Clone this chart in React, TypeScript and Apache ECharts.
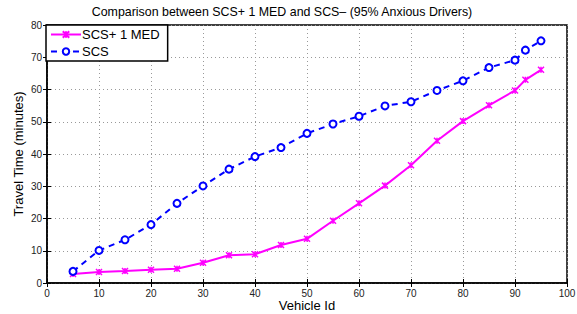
import React, { useEffect, useRef } from "react";
import * as echarts from "echarts";

const vehicleIds = [5, 10, 15, 20, 25, 30, 35, 40, 45, 50, 55, 60, 65, 70, 75, 80, 85, 90, 92, 95];
const scsMed = [2.8, 3.4, 3.7, 4.1, 4.4, 6.3, 8.6, 8.9, 11.8, 13.7, 19.3, 24.7, 30.2, 36.5, 44.1, 50.2, 55.1, 59.7, 63.0, 66.1];
const scs = [3.6, 10.1, 13.4, 18.1, 24.7, 30.1, 35.3, 39.2, 42.0, 46.4, 49.3, 51.7, 54.9, 56.2, 59.7, 62.7, 66.8, 69.1, 72.2, 75.1];
const seriesNames = ["SCS+ 1 MED", "SCS"];
const titleText = "Comparison between SCS+ 1 MED and SCS\u2013 (95% Anxious Drivers)";

const FONT = "'Liberation Sans', Arial, Helvetica, sans-serif";

export default function App() {
  const ref = useRef<HTMLDivElement>(null);
  useEffect(() => {
    if (!ref.current) return;
    const chart = echarts.init(ref.current, undefined, { renderer: "svg" });
    const tick = { show: true, inside: true, length: 4, lineStyle: { color: "#000", width: 1 } };
    const split = { show: true, lineStyle: { color: "#999", type: [1, 3] as any, width: 1 } };
    const label = { color: "#222", fontSize: 10, fontFamily: FONT, margin: 5 };
    chart.setOption({
      animation: false,
      backgroundColor: "#fff",
      title: {
        text: titleText,
        left: 277,
        textAlign: "center",
        top: 1,
        textStyle: { fontSize: 12.4, fontWeight: "normal", color: "#000", fontFamily: FONT },
      },
      grid: {
        left: 47,
        right: 10,
        top: 25,
        bottom: 31,
        show: true,
        borderColor: "#000",
        borderWidth: 1.5,
        backgroundColor: "transparent",
        outerBoundsMode: "none",
        containLabel: false,
      },
      legend: {
        orient: "vertical",
        left: 46,
        top: 25,
        backgroundColor: "#fff",
        borderColor: "#000",
        borderWidth: 1.5,
        borderRadius: 0,
        padding: [3, 8, 3, 4],
        itemGap: 4,
        itemWidth: 30,
        itemHeight: 8,
        textStyle: { fontSize: 13, color: "#000", fontFamily: FONT, padding: [0, 0, 0, -4] },
        data: seriesNames,
      },
      xAxis: [
        {
          type: "value",
          min: 0,
          max: 100,
          interval: 10,
          name: "Vehicle Id",
          nameLocation: "middle",
          nameGap: 16,
          nameMoveOverlap: false,
          nameTextStyle: { fontSize: 13, color: "#000", fontFamily: FONT },
          axisLine: { show: true, lineStyle: { color: "#000", width: 1.5 } },
          axisTick: tick,
          axisLabel: label,
          splitLine: split,
        },
        {
          type: "value",
          position: "top",
          min: 0,
          max: 100,
          interval: 10,
          axisLine: { show: false },
          axisTick: tick,
          axisLabel: { show: false },
          splitLine: { show: false },
        },
      ],
      yAxis: [
        {
          type: "value",
          min: 0,
          max: 80,
          interval: 10,
          name: "Travel Time (minutes)",
          nameLocation: "middle",
          nameGap: 22,
          nameMoveOverlap: false,
          nameTextStyle: { fontSize: 13, color: "#000", fontFamily: FONT },
          axisLine: { show: true, lineStyle: { color: "#000", width: 1.5 } },
          axisTick: tick,
          axisLabel: label,
          splitLine: split,
        },
        {
          type: "value",
          position: "right",
          min: 0,
          max: 80,
          interval: 10,
          axisLine: { show: false },
          axisTick: tick,
          axisLabel: { show: false },
          splitLine: { show: false },
        },
      ],
      series: [
        {
          name: seriesNames[0],
          type: "line",
          data: vehicleIds.map((x, i) => [x, scsMed[i]]),
          symbol: "path://M0,0L10,10M10,0L0,10M5,0L5,10",
          symbolSize: 6,
          showAllSymbol: true,
          lineStyle: { color: "#ff00ff", width: 2 },
          itemStyle: { color: "#ff00ff", borderColor: "#ff00ff", borderWidth: 1.5 },
          z: 3,
        },
        {
          name: seriesNames[1],
          type: "line",
          data: vehicleIds.map((x, i) => [x, scs[i]]),
          symbol: "emptyCircle",
          symbolSize: 7,
          showAllSymbol: true,
          lineStyle: { color: "#0000ff", width: 2, type: [6, 5] as any },
          itemStyle: { color: "#0000ff", borderColor: "#0000ff", borderWidth: 2 },
          z: 4,
        },
      ],
    });
    return () => chart.dispose();
  }, []);
  return (
    <div
      ref={ref}
      style={{ position: "fixed", left: 0, top: 0, width: 577, height: 314 }}
    />
  );
}
